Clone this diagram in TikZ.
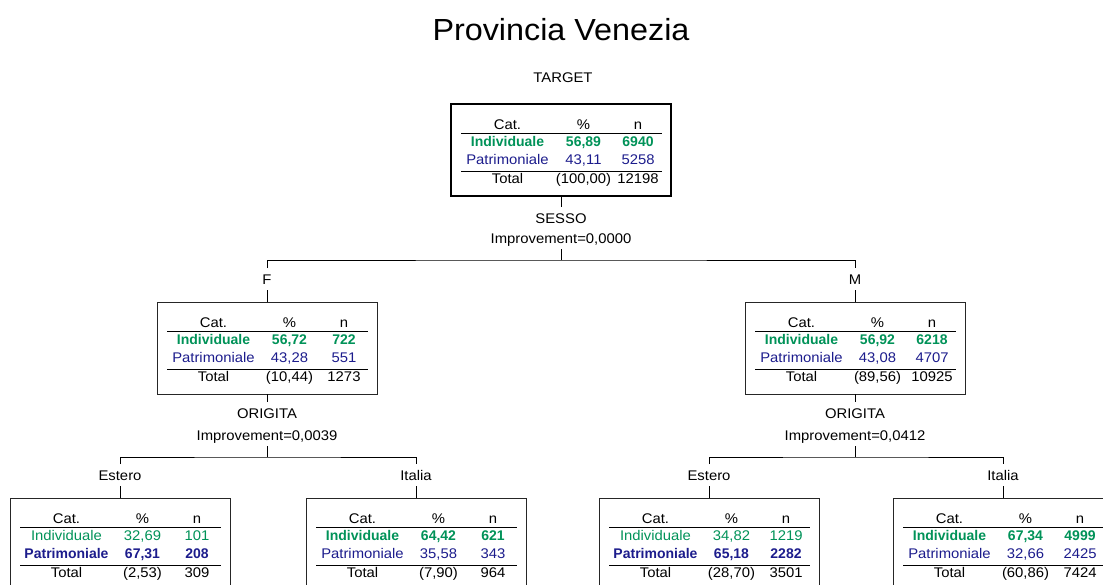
\documentclass[tikz,border=0pt]{standalone}
\usepackage{fontspec}
\setmainfont{Liberation Sans}[UprightFeatures={FakeStretch=1.06}]

\definecolor{catI}{RGB}{0,146,88}
\definecolor{catP}{RGB}{28,28,140}

\tikzset{
  lbl/.style={font=\fontsize{14}{17}\selectfont, inner sep=0pt, outer sep=6pt,
              text height=10pt, text depth=0pt},
  cell/.style={font=\fontsize{14}{17}\selectfont, inner sep=0pt, anchor=base},
  catbox/.style={draw=black!85, line width=0.9pt, minimum width=220pt,
                 minimum height=92pt, inner sep=0pt, outer sep=0pt, anchor=north west},
  tabrule/.style={line width=0.9pt},
  link/.style={line width=0.9pt},
}

% #1 nome, #2 angolo in alto a sinistra, #3 riga modale (1/2), #4-#9 valori
\newcommand{\catbox}[9]{%
  \ifnum#3=1 \def\wtI{\bfseries}\def\wtP{}\else\def\wtI{}\def\wtP{\bfseries}\fi
  \node[catbox] (#1) at (#2) {};
  \begin{scope}[shift={(#1.north west)}]
    \node[cell] (#1-c) at (56.5,25) {Cat.};
    \node[cell] (#1-p) at (132.5,25) {\%};
    \node[cell] (#1-n) at (187,25) {n};
    \draw[tabrule] (10,29) -- (211,29);
    \node[cell, catI] (#1-ic) at (56.5,42.5) {\wtI Individuale};
    \node[cell, catI] (#1-ip) at (132.5,42.5) {\wtI #4};
    \node[cell, catI] (#1-in) at (187,42.5) {\wtI #5};
    \node[cell, catP] (#1-pc) at (56.5,60.5) {\wtP Patrimoniale};
    \node[cell, catP] (#1-pp) at (132.5,60.5) {\wtP #6};
    \node[cell, catP] (#1-pn) at (187,60.5) {\wtP #7};
    \draw[tabrule] (10,67) -- (211,67);
    \node[cell] (#1-tc) at (56.5,79) {Total};
    \node[cell] (#1-tp) at (132.5,79) {#8};
    \node[cell] (#1-tn) at (187,79) {#9};
  \end{scope}
}

\begin{document}
\begin{tikzpicture}[x=1pt, y=-1pt]
\useasboundingbox (0,0) rectangle (1103,584);
\clip (0,0) rectangle (1103,584);

%% === RADICE ===
\node[font=\fontsize{30.5}{36}\selectfont, anchor=base, inner sep=0pt] (title) at (561,40) {Provincia Venezia};
\node[lbl] (target) at (563,77.5) {TARGET};

\catbox{root}{451,104}{1}{56,89}{6940}{43,11}{5258}{(100,00)}{12198}
\draw[line width=2.4pt] (root.north west) rectangle (root.south east);

\node[lbl] (sesso) at (561,218) {SESSO};
\node[lbl] (imprA) at (561,238) {Improvement=0,0000};
\coordinate (barA) at (561,260);
\draw[link] (root) -- (sesso);
\draw[link] (imprA) -- (barA);

\node[lbl] (lblF) at (267,279) {F};
\node[lbl] (lblM) at (855,279) {M};
\draw[link] (lblF) |- (barA) -| (lblM);

%% === PRIMO LIVELLO: F / M ===
\catbox{nF}{157,302}{1}{56,72}{722}{43,28}{551}{(10,44)}{1273}
\catbox{nM}{745,302}{1}{56,92}{6218}{43,08}{4707}{(89,56)}{10925}
\draw[link] (lblF) -- (nF);
\draw[link] (lblM) -- (nM);

\node[lbl] (origF) at (267,413) {ORIGITA};
\node[lbl] (imprF) at (267,435) {Improvement=0,0039};
\node[lbl] (origM) at (855,413) {ORIGITA};
\node[lbl] (imprM) at (855,435) {Improvement=0,0412};
\coordinate (barF) at (267,457);
\coordinate (barM) at (855,457);
\draw[link] (nF) -- (origF);
\draw[link] (imprF) -- (barF);
\draw[link] (nM) -- (origM);
\draw[link] (imprM) -- (barM);

\node[lbl] (lblFE) at (120,475) {Estero};
\node[lbl] (lblFI) at (416,475) {Italia};
\node[lbl] (lblME) at (709,475) {Estero};
\node[lbl] (lblMI) at (1003,475) {Italia};
\draw[link] (lblFE) |- (barF) -| (lblFI);
\draw[link] (lblME) |- (barM) -| (lblMI);

%% === SECONDO LIVELLO: Estero / Italia ===
\catbox{nFE}{10,498}{2}{32,69}{101}{67,31}{208}{(2,53)}{309}
\catbox{nFI}{306,498}{1}{64,42}{621}{35,58}{343}{(7,90)}{964}
\catbox{nME}{599,498}{2}{34,82}{1219}{65,18}{2282}{(28,70)}{3501}
\catbox{nMI}{893,498}{1}{67,34}{4999}{32,66}{2425}{(60,86)}{7424}
\draw[link] (lblFE) -- (nFE);
\draw[link] (lblFI) -- (nFI);
\draw[link] (lblME) -- (nME);
\draw[link] (lblMI) -- (nMI);

\end{tikzpicture}
\end{document}
